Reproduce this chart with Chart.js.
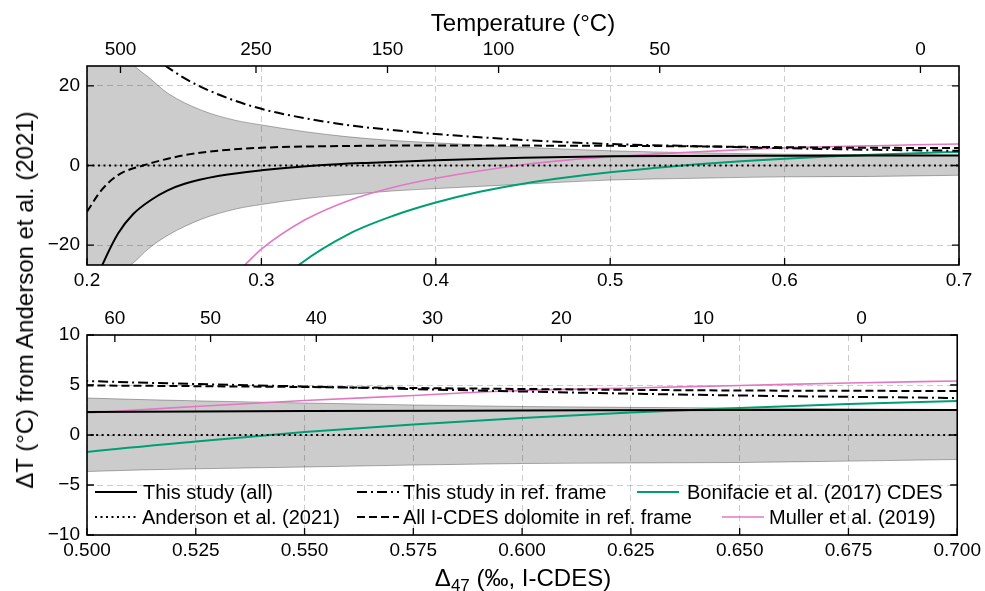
<!DOCTYPE html>
<html>
<head>
<meta charset="utf-8">
<title>Delta T from Anderson et al. (2021)</title>
<script src="https://cdn.jsdelivr.net/npm/chart.js@4.4.0/dist/chart.umd.min.js"></script>
<style>
  body { margin: 0; background: #fff; }
  #wrap { position: relative; width: 985px; height: 591px; overflow: hidden;
          font-family: 'Liberation Sans', Arial, sans-serif; color: #000; }
  canvas { position: absolute; left: 0; }
  #top-chart { top: 0; }
  #bottom-chart { top: 290px; }
  .ytitle { position: absolute; left: 25px; top: 300px; font-size: 24px; white-space: nowrap;
            transform: translate(-50%, -50%) rotate(-90deg); }
  .xtitle { position: absolute; left: 523px; top: 578px; font-size: 24px; white-space: nowrap;
            transform: translate(-50%, -50%); }
  .xtitle sub { font-size: 17px; vertical-align: -5px; line-height: 0; }
  .leg { position: absolute; height: 24px; line-height: 24px; font-size: 20px; white-space: nowrap; }
  .leg svg { position: absolute; top: 0; }
</style>
</head>
<body>
<div id="wrap">
  <canvas id="top-chart" width="985" height="290"></canvas>
  <canvas id="bottom-chart" width="985" height="301"></canvas>
  <div class="ytitle">ΔT (°C) from Anderson et al. (2021)</div>
  <div class="xtitle">Δ<sub>47</sub> (‰, I-CDES)</div>

  <!-- legend, 3 columns x 2 rows in the lower panel -->
  <div class="leg" style="left:95px; top:480px;">
    <svg width="42" height="24"><line x1="0" y1="12" x2="42" y2="12" stroke="#000" stroke-width="2"/></svg>
    <span style="margin-left:48px;">This study (all)</span>
  </div>
  <div class="leg" style="left:95px; top:505px;">
    <svg width="42" height="24"><line x1="0" y1="12" x2="42" y2="12" stroke="#000" stroke-width="2" stroke-dasharray="2,3.5"/></svg>
    <span style="margin-left:47px;">Anderson et al. (2021)</span>
  </div>
  <div class="leg" style="left:357px; top:480px;">
    <svg width="42" height="24"><line x1="0" y1="12" x2="42" y2="12" stroke="#000" stroke-width="2" stroke-dasharray="10,4,2,4"/></svg>
    <span style="margin-left:46px;">This study in ref. frame</span>
  </div>
  <div class="leg" style="left:357px; top:505px;">
    <svg width="42" height="24"><line x1="0" y1="12" x2="42" y2="12" stroke="#000" stroke-width="2" stroke-dasharray="8,4"/></svg>
    <span style="margin-left:46px;">All I-CDES dolomite in ref. frame</span>
  </div>
  <div class="leg" style="left:637px; top:480px;">
    <svg width="42" height="24"><line x1="0" y1="12" x2="42" y2="12" stroke="#009e73" stroke-width="2"/></svg>
    <span style="margin-left:50px;">Bonifacie et al. (2017) CDES</span>
  </div>
  <div class="leg" style="left:722px; top:505px;">
    <svg width="42" height="24"><line x1="0" y1="12" x2="42" y2="12" stroke="#e377c2" stroke-width="1.6"/></svg>
    <span style="margin-left:47px;">Muller et al. (2019)</span>
  </div>
</div>

<script>
'use strict';

// ---- data ----

// grey envelope
const bandX  = [0.2, 0.21, 0.2235, 0.2273, 0.235, 0.2465, 0.2656, 0.2847, 0.3, 0.325, 0.35, 0.375, 0.4, 0.45, 0.5, 0.55, 0.6, 0.65, 0.7];
const bandHi = [40, 33, 27, 25, 22.3, 18.1, 13.9, 11.4, 10.2, 8.5, 7.2, 6.3, 5.7, 4.6, 3.7, 3.2, 2.85, 2.7, 2.55];
const bandLo = [-40, -32, -25.5, -24.2, -21, -17.5, -13.5, -11, -9.8, -8.3, -7.3, -6.4, -5.8, -4.7, -3.65, -3.2, -2.85, -2.75, -2.45];

// This study (all)
const allX = [0.2, 0.205, 0.2092, 0.2178, 0.2265, 0.2369, 0.246, 0.256, 0.2751, 0.3, 0.3334, 0.36, 0.4, 0.45, 0.5, 0.55, 0.6, 0.65, 0.7];
const allY = [-37, -29, -24.6, -17.1, -12.2, -8.6, -6.3, -4.6, -2.65, -1.2, 0.05, 0.65, 1.3, 1.95, 2.3, 2.4, 2.45, 2.5, 2.5];

// Anderson et al. (2021) reference
const andX = [0.2, 0.7];
const andY = [0, 0];

// This study in ref. frame
const refX = [0.235, 0.2465, 0.2556, 0.2656, 0.2847, 0.302, 0.3248, 0.3506, 0.3764, 0.4, 0.425, 0.451, 0.475, 0.5, 0.55, 0.6, 0.65, 0.7];
const refY = [28, 24.6, 22, 19.7, 16.3, 14.0, 11.9, 10.1, 8.85, 7.9, 7.1, 6.4, 5.85, 5.4, 4.85, 4.35, 3.95, 3.7];

// All I-CDES dolomite in ref. frame
const dolX = [0.2, 0.2083, 0.2178, 0.2321, 0.256, 0.2751, 0.302, 0.35, 0.4, 0.45, 0.5, 0.55, 0.6, 0.65, 0.7];
const dolY = [-11.6, -6.2, -2.4, 0, 2.6, 3.7, 4.5, 4.9, 5.05, 5.0, 4.95, 4.8, 4.6, 4.45, 4.4];

// Bonifacie et al. (2017) CDES
const boniX = [0.315, 0.322, 0.3506, 0.3764, 0.4, 0.4252, 0.451, 0.4768, 0.5, 0.525, 0.55, 0.575, 0.6, 0.625, 0.65, 0.675, 0.7];
const boniY = [-27.5, -24.8, -17.1, -12.5, -9.3, -6.6, -4.5, -2.9, -1.7, -0.65, 0.3, 1.05, 1.7, 2.25, 2.7, 3.1, 3.4];

// Muller et al. (2019)
const mulX = [0.285, 0.2904, 0.3, 0.3248, 0.3506, 0.3764, 0.4, 0.45, 0.475, 0.5, 0.525, 0.55, 0.575, 0.596, 0.625, 0.65, 0.675, 0.7];
const mulY = [-27, -25, -21, -13.7, -8.7, -5.4, -3.2, 0.2, 1.35, 2.2, 2.85, 3.45, 3.95, 4.4, 4.7, 4.95, 5.2, 5.4];

// axis ticks
const topXTicks = [0.2, 0.3, 0.4, 0.5, 0.6, 0.7];
const topYTicks = [-20, 0, 20];
const botXTicks = [0.5, 0.525, 0.55, 0.575, 0.6, 0.625, 0.65, 0.675, 0.7];
const botYTicks = [-10, -5, 0, 5, 10];

// temperature scale on top (label + where it sits on the D47 axis)
const topTempLabels = [500, 250, 150, 100, 50, 0];
const topTempPos    = [0.2192, 0.2969, 0.3723, 0.436, 0.5284, 0.6779];
const botTempLabels = [60, 50, 40, 30, 20, 10, 0];
const botTempPos    = [0.5064, 0.5284, 0.5527, 0.5794, 0.609, 0.6417, 0.678];

// ---- helpers ----
function pts(xs, ys) {
  return xs.map((x, i) => ({x: x, y: ys[i]}));
}

function minus(v) {
  return v < 0 ? '\u2212' + Math.abs(v) : String(v);
}

Chart.defaults.font.family = "'Liberation Sans', Arial, sans-serif";
Chart.defaults.color = '#000';

// inward tick marks on all four sides + black frame
const frameTicks = {
  id: 'frameTicks',
  afterDraw(chart) {
    const ctx = chart.ctx;
    const a = chart.chartArea;
    const s = chart.scales;
    const len = 7;
    ctx.save();
    ctx.strokeStyle = '#000';
    ctx.lineWidth = 1.3;
    ctx.beginPath();
    s.x.ticks.forEach(t => {
      const px = s.x.getPixelForValue(t.value);
      ctx.moveTo(px, a.bottom); ctx.lineTo(px, a.bottom - len);
    });
    s.x2.ticks.forEach(t => {
      const px = s.x2.getPixelForValue(t.value);
      ctx.moveTo(px, a.top); ctx.lineTo(px, a.top + len);
    });
    s.y.ticks.forEach(t => {
      const py = s.y.getPixelForValue(t.value);
      ctx.moveTo(a.left, py); ctx.lineTo(a.left + len, py);
      ctx.moveTo(a.right, py); ctx.lineTo(a.right - len, py);
    });
    ctx.stroke();
    ctx.lineWidth = 1.6;
    ctx.strokeRect(a.left, a.top, a.right - a.left, a.bottom - a.top);
    ctx.restore();
  }
};

function datasets() {
  return [
    {label: 'This study (all)', data: pts(allX, allY), borderColor: '#000', borderWidth: 2},
    {label: 'Anderson et al. (2021)', data: pts(andX, andY), borderColor: '#000', borderWidth: 2, borderDash: [2, 3.5]},
    {label: 'This study in ref. frame', data: pts(refX, refY), borderColor: '#000', borderWidth: 2, borderDash: [10, 4, 2, 4]},
    {label: 'All I-CDES dolomite in ref. frame', data: pts(dolX, dolY), borderColor: '#000', borderWidth: 2, borderDash: [8, 4]},
    {label: 'Bonifacie et al. (2017) CDES', data: pts(boniX, boniY), borderColor: '#009e73', borderWidth: 2},
    {label: 'Muller et al. (2019)', data: pts(mulX, mulY), borderColor: '#e377c2', borderWidth: 1.6},
    {label: 'band hi', data: pts(bandX, bandHi), borderColor: 'rgba(0,0,0,0.3)', borderWidth: 1,
     backgroundColor: 'rgba(0,0,0,0.2)', fill: '+1'},
    {label: 'band lo', data: pts(bandX, bandLo), borderColor: 'rgba(0,0,0,0.3)', borderWidth: 1}
  ];
}

function makeChart(id, cfg) {
  const ticksFont = {size: 19};
  const grid = {color: 'rgba(0,0,0,0.2)', lineWidth: 1, drawTicks: false};
  const border = {display: false, dash: [6, 4]};

  return new Chart(document.getElementById(id), {
    type: 'line',
    data: {datasets: datasets()},
    options: {
      responsive: false,
      animation: false,
      events: [],
      layout: {padding: {left: 0, right: 26, top: 0, bottom: 0}},
      elements: {
        point: {radius: 0},
        line: {cubicInterpolationMode: 'monotone', fill: false}
      },
      plugins: {legend: {display: false}, tooltip: {enabled: false}},
      scales: {
        x: {
          type: 'linear', position: 'bottom', min: cfg.xMin, max: cfg.xMax,
          grid: grid, border: border,
          afterBuildTicks: sc => { sc.ticks = cfg.xTicks.map(v => ({value: v})); },
          afterFit: sc => { sc.height = cfg.bottomH; },
          ticks: {font: ticksFont, padding: 4, maxRotation: 0, autoSkip: false,
                  callback: v => v.toFixed(cfg.digits)}
        },
        x2: {
          type: 'linear', position: 'top', min: cfg.xMin, max: cfg.xMax,
          grid: {display: false, drawTicks: false}, border: {display: false},
          afterBuildTicks: sc => { sc.ticks = cfg.tempPos.map(v => ({value: v})); },
          afterFit: sc => { sc.height = cfg.topH; },
          ticks: {font: ticksFont, padding: 5, maxRotation: 0, autoSkip: false,
                  callback: (v, i) => String(cfg.tempLabels[i])},
          title: {display: !!cfg.topTitle, text: cfg.topTitle || '', font: {size: 24},
                  padding: {top: 10, bottom: 0}}
        },
        y: {
          type: 'linear', position: 'left', min: cfg.yMin, max: cfg.yMax,
          grid: grid, border: border,
          afterBuildTicks: sc => { sc.ticks = cfg.yTicks.map(v => ({value: v})); },
          afterFit: sc => { sc.width = 87; },
          ticks: {font: ticksFont, padding: 7, callback: v => minus(v)}
        }
      }
    },
    plugins: [frameTicks]
  });
}

makeChart('top-chart', {
  xMin: 0.2, xMax: 0.7, xTicks: topXTicks, digits: 1,
  yMin: -25, yMax: 25, yTicks: topYTicks,
  tempPos: topTempPos, tempLabels: topTempLabels,
  topH: 66, bottomH: 25, topTitle: 'Temperature (°C)'
});

makeChart('bottom-chart', {
  xMin: 0.5, xMax: 0.7, xTicks: botXTicks, digits: 3,
  yMin: -10, yMax: 10, yTicks: botYTicks,
  tempPos: botTempPos, tempLabels: botTempLabels,
  topH: 45, bottomH: 56, topTitle: ''
});
</script>
</body>
</html>
